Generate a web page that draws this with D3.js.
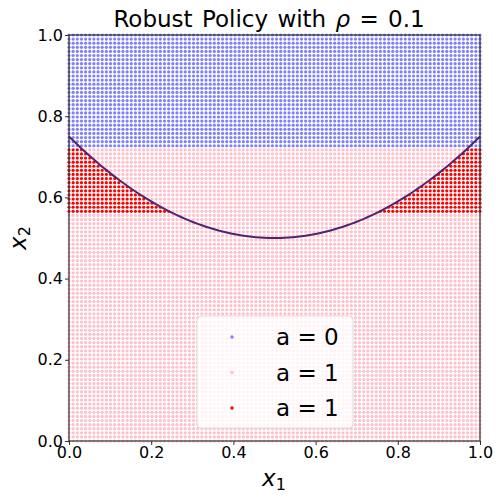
<!DOCTYPE html>
<html>
<head>
<meta charset="utf-8">
<script src="https://cdn.jsdelivr.net/npm/d3@7"></script>
<style>
body { margin: 0; background: #fff; }
text { font-family: "DejaVu Sans", sans-serif; }
</style>
</head>
<body>
<svg width="496" height="497"></svg>
<script>
var width = 496;
var height = 497;

// grid of states
var nGrid = 100;
var rho = 0.1;
var blueAbove = 0.725;   // a = 0 above this x2
var redBelow = 0.558;    // red band starts here
var xTicks = [0.0, 0.2, 0.4, 0.6, 0.8, 1.0];
var yTicks = [0.0, 0.2, 0.4, 0.6, 0.8, 1.0];
var legendLabels = ["a = 0", "a = 1", "a = 1"];
var colors = ["#7f7fff", "#ffc0cb", "#ff0000"];

var gridVals = d3.range(nGrid).map(i => i / (nGrid - 1));

var points = [];
gridVals.forEach(x1 => {
    gridVals.forEach(x2 => {
        var boundary = 0.5 + (x1 - 0.5) * (x1 - 0.5);
        var cls;
        if (x2 > blueAbove) cls = 0;
        else if (x2 < boundary && x2 >= redBelow) cls = 2;
        else cls = 1;
        points.push({x1: x1, x2: x2, cls: cls});
    });
});

var curve = gridVals.map(x1 => ({x1: x1, x2: 0.5 + (x1 - 0.5) * (x1 - 0.5)}));

var margin = {left: 69, right: 16, top: 35, bottom: 56};

var x = d3.scaleLinear().domain([0, 1]).range([margin.left, width - margin.right]);
var y = d3.scaleLinear().domain([0, 1]).range([height - margin.bottom, margin.top]);

var svg = d3.select("svg");

svg.append("g")
    .selectAll("circle")
    .data(points)
    .enter()
    .append("circle")
        .attr("cx", d => x(d.x1))
        .attr("cy", d => y(d.x2))
        .attr("r", 1.6)
        .attr("fill", d => colors[d.cls]);

svg.append("path")
    .datum(curve)
    .attr("fill", "none")
    .attr("stroke", "#4f2570")
    .attr("stroke-width", 2)
    .attr("d", d3.line().x(d => x(d.x1)).y(d => y(d.x2)));

// frame
svg.append("rect")
    .attr("x", x(0))
    .attr("y", y(1))
    .attr("width", x(1) - x(0))
    .attr("height", y(0) - y(1))
    .attr("fill", "none")
    .attr("stroke", "#333")
    .attr("stroke-width", 1.2);

var xAxis = svg.append("g")
    .attr("transform", `translate(0, ${y(0)})`)
    .call(d3.axisBottom(x).tickValues(xTicks).tickFormat(d3.format(".1f")).tickSize(4).tickPadding(2));
var yAxis = svg.append("g")
    .attr("transform", `translate(${x(0)}, 0)`)
    .call(d3.axisLeft(y).tickValues(yTicks).tickFormat(d3.format(".1f")).tickSize(4).tickPadding(2));

[xAxis, yAxis].forEach(a => {
    a.select(".domain").remove();
    a.selectAll("line").attr("stroke", "#333");
    a.selectAll("text").style("font-size", "16px").attr("fill", "#000");
});

// legend
var lg = svg.append("g").attr("transform", "translate(197, 316)");
lg.append("rect")
    .attr("width", 156)
    .attr("height", 112)
    .attr("rx", 4)
    .attr("fill", "#fff")
    .attr("fill-opacity", 0.8)
    .attr("stroke", "#ddd");
legendLabels.forEach((t, i) => {
    lg.append("circle")
        .attr("cx", 35)
        .attr("cy", 21 + i * 35.5)
        .attr("r", 1.7)
        .attr("fill", colors[i]);
    lg.append("text")
        .attr("x", 79)
        .attr("y", 21 + i * 35.5)
        .attr("dy", "0.35em")
        .style("font-size", "23px")
        .text(t);
});

// title
var title = svg.append("text")
    .attr("x", 269)
    .attr("y", 27)
    .style("text-anchor", "middle")
    .style("font-size", "23px")
    .style("word-spacing", "2px");
title.append("tspan").text("Robust Policy with ");
title.append("tspan").style("font-style", "italic").text("ρ");
title.append("tspan").text(" = " + rho);

// axis labels
var xl = svg.append("text")
    .attr("x", 274)
    .attr("y", 486)
    .style("text-anchor", "middle")
    .style("font-size", "23px");
xl.append("tspan").style("font-style", "italic").text("x");
xl.append("tspan").attr("dy", 4).style("font-size", "16px").text("1");

var yl = svg.append("text")
    .attr("transform", `translate(26, ${y(0.5)}) rotate(-90)`)
    .style("text-anchor", "middle")
    .style("font-size", "23px");
yl.append("tspan").style("font-style", "italic").text("x");
yl.append("tspan").attr("dy", 4).style("font-size", "16px").text("2");
</script>
</body>
</html>
